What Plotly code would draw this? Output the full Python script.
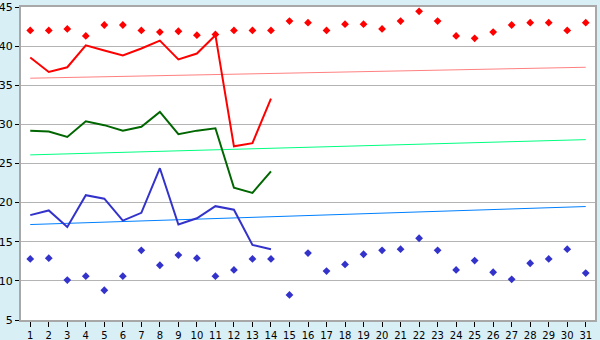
import plotly.graph_objects as go

days = list(range(1, 32))
tick_labels = [str(d) for d in days]

red_points = [42.0, 42.0, 42.2, 41.3, 42.7, 42.7, 42.0, 41.8, 41.9, 41.4,
              41.5, 42.0, 42.0, 42.0, 43.2, 43.0, 42.0, 42.8, 42.8, 42.2,
              43.2, 44.45, 43.2, 41.3, 41.0, 41.8, 42.7, 43.0, 43.0, 42.0, 43.0]
blue_points = [12.8, 12.9, 10.1, 10.6, 8.8, 10.6, 13.9, 12.0, 13.3, 12.9,
               10.6, 11.4, 12.8, 12.8, 8.2, 13.55, 11.25, 12.1, 13.4, 13.9,
               14.05, 15.45, 13.9, 11.4, 12.6, 11.1, 10.2, 12.25, 12.8, 14.05, 11.0]

line_days = list(range(1, 15))
red_line = [38.55, 36.7, 37.3, 40.1, 39.45, 38.8, 39.7, 40.7, 38.3, 39.05,
            41.4, 27.2, 27.6, 33.3]
green_line = [29.2, 29.1, 28.4, 30.4, 29.9, 29.2, 29.7, 31.6, 28.75, 29.2,
              29.5, 21.9, 21.25, 24.0]
blue_line = [18.4, 19.0, 16.9, 20.95, 20.5, 17.7, 18.7, 24.4, 17.2, 18.0,
             19.55, 19.1, 14.6, 14.05]

trend_days = [1, 31]
red_trend = [35.9, 37.3]
green_trend = [26.1, 28.05]
blue_trend = [17.2, 19.5]

fig = go.Figure()

fig.add_trace(go.Scatter(x=trend_days, y=red_trend, mode="lines",
                         line=dict(color="#ff8080", width=1)))
fig.add_trace(go.Scatter(x=trend_days, y=green_trend, mode="lines",
                         line=dict(color="#00ff80", width=1)))
fig.add_trace(go.Scatter(x=trend_days, y=blue_trend, mode="lines",
                         line=dict(color="#0080ff", width=1)))

fig.add_trace(go.Scatter(x=line_days, y=red_line, mode="lines",
                         line=dict(color="#ff0000", width=2)))
fig.add_trace(go.Scatter(x=line_days, y=green_line, mode="lines",
                         line=dict(color="#006600", width=2)))
fig.add_trace(go.Scatter(x=line_days, y=blue_line, mode="lines",
                         line=dict(color="#3333cc", width=2)))

fig.add_trace(go.Scatter(x=days, y=red_points, mode="markers",
                         marker=dict(symbol="diamond", size=6, color="#ff0000")))
fig.add_trace(go.Scatter(x=days, y=blue_points, mode="markers",
                         marker=dict(symbol="diamond", size=6, color="#3333cc")))

fig.update_layout(
    width=600, height=340,
    margin=dict(l=21, r=5, t=7, b=20, autoexpand=False),
    paper_bgcolor="#d9eff6",
    plot_bgcolor="#ffffff",
    showlegend=False,
    font=dict(family="DejaVu Sans", size=11, color="#000000"),
)
fig.update_xaxes(
    range=[0.5, 31.5], tickmode="array", tickvals=days, ticktext=tick_labels,
    showgrid=False, zeroline=False, showline=True, linecolor="#a8a8a8",
    linewidth=2, mirror=True, ticks="outside", ticklen=5, tickcolor="#000000",
    tickfont=dict(size=10), automargin=False, ticklabeloverflow="allow",
)
fig.update_yaxes(
    range=[5, 45], dtick=5, tick0=5, showgrid=True, gridcolor="#b4b4b4",
    gridwidth=1, zeroline=False, showline=True, linecolor="#a8a8a8",
    linewidth=2, mirror=True, ticks="outside", ticklen=4, tickcolor="#000000",
    tickfont=dict(size=11), automargin=False, ticklabelstandoff=0,
    ticklabeloverflow="allow",
)

fig.write_html("out.html")
